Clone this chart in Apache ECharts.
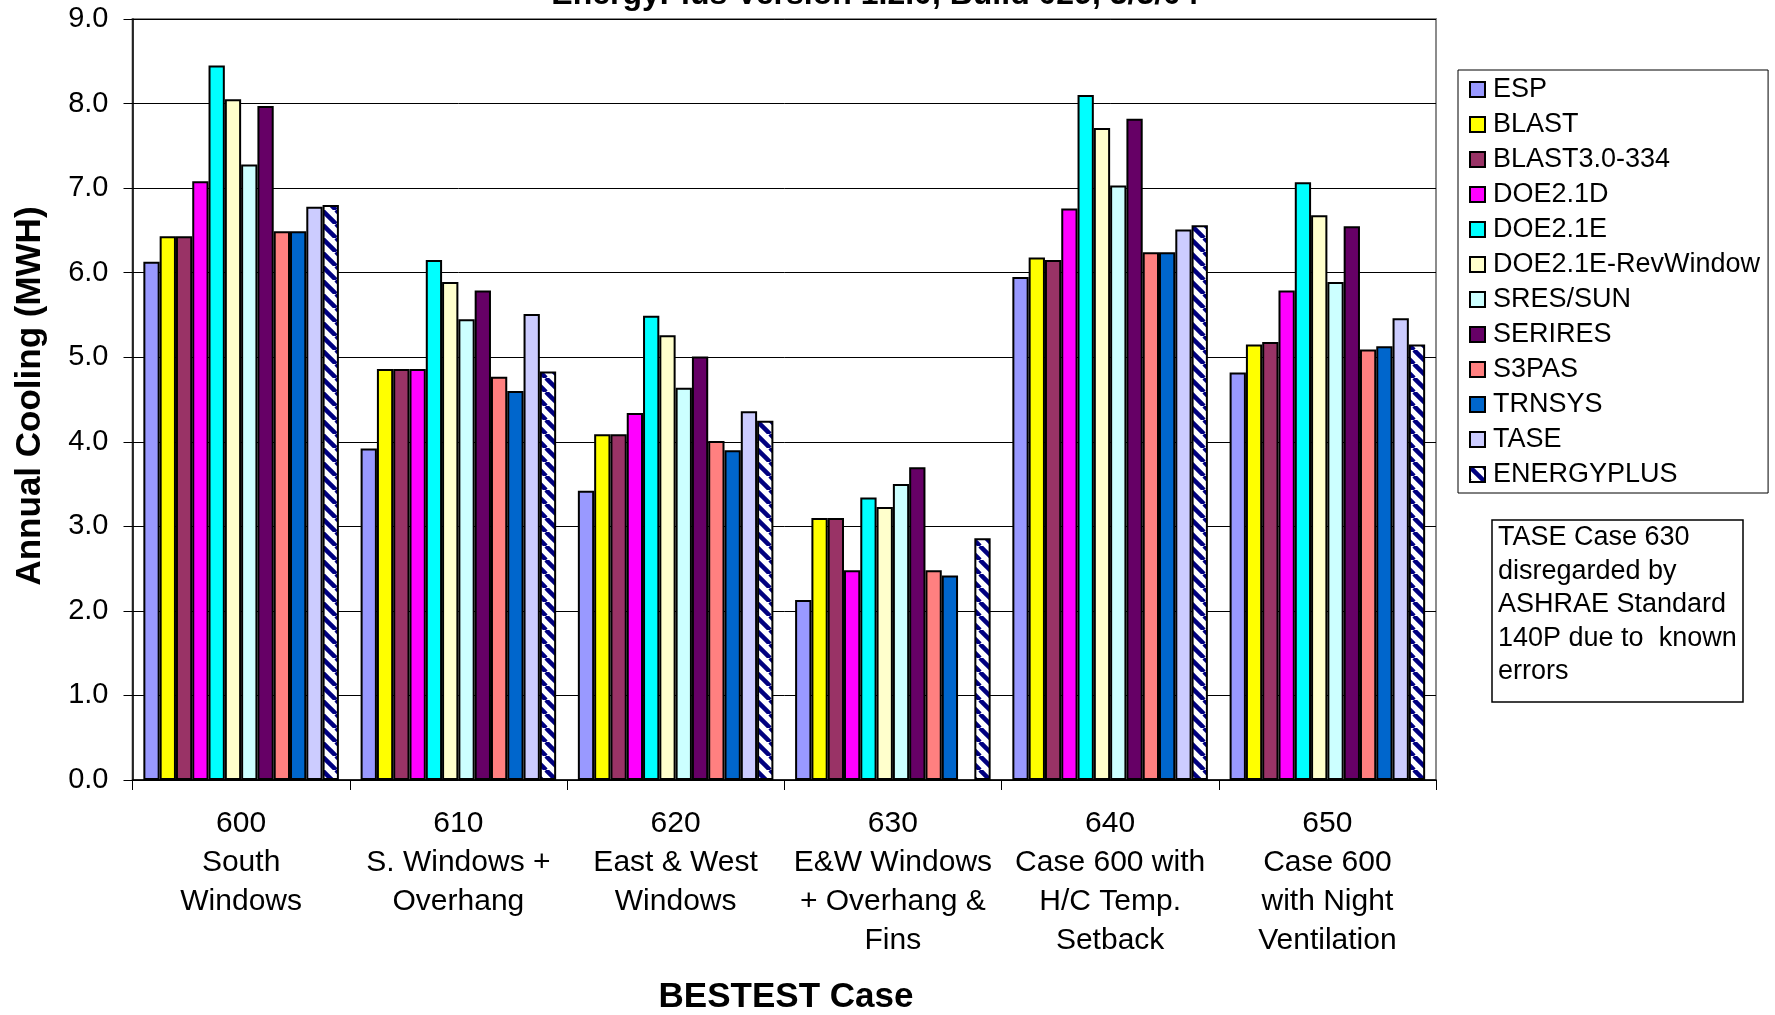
<!DOCTYPE html>
<html>
<head>
<meta charset="utf-8">
<script src="https://cdn.jsdelivr.net/npm/echarts@6/dist/echarts.min.js"></script>
<style>
html,body{margin:0;padding:0;background:#fff;}
#chart{width:1775px;height:1015px;}
</style>
</head>
<body>
<div id="chart"></div>
<script>
const categories = ['600\nSouth\nWindows', '610\nS. Windows +\nOverhang', '620\nEast & West\nWindows', '630\nE&W Windows\n+ Overhang &\nFins', '640\nCase 600 with\nH/C Temp.\nSetback', '650\nCase 600\nwith Night\nVentilation'];
const seriesNames = ['ESP', 'BLAST', 'BLAST3.0-334', 'DOE2.1D', 'DOE2.1E', 'DOE2.1E-RevWindow', 'SRES/SUN', 'SERIRES', 'S3PAS', 'TRNSYS', 'TASE', 'ENERGYPLUS'];
const ESP = [6.13, 3.92, 3.42, 2.13, 5.95, 4.82];
const BLAST = [6.43, 4.86, 4.09, 3.10, 6.18, 5.15];
const BLAST3 = [6.43, 4.86, 4.09, 3.10, 6.15, 5.18];
const DOE21D = [7.08, 4.86, 4.34, 2.48, 6.76, 5.79];
const DOE21E = [8.45, 6.15, 5.49, 3.34, 8.10, 7.07];
const DOE21E_Rev = [8.05, 5.89, 5.26, 3.23, 7.71, 6.68];
const SRES_SUN = [7.28, 5.45, 4.64, 3.50, 7.03, 5.89];
const SERIRES = [7.97, 5.79, 5.01, 3.70, 7.82, 6.55];
const S3PAS = [6.49, 4.77, 4.01, 2.48, 6.24, 5.09];
const TRNSYS = [6.49, 4.60, 3.90, 2.42, 6.24, 5.13];
const TASE = [6.78, 5.51, 4.36, null, 6.51, 5.46];
const ENERGYPLUS = [6.80, 4.83, 4.25, 2.86, 6.56, 5.15];
const yTicks = [0, 1, 2, 3, 4, 5, 6, 7, 8, 9];
const titleText = 'EnergyPlus Version 1.2.0, Build 029, 3/3/04';
const yTitle = 'Annual Cooling (MWH)';
const xTitle = 'BESTEST Case';
const noteLines = ['TASE Case 630', 'disregarded by', 'ASHRAE Standard', '140P due to  known', 'errors'];

const values = [ESP, BLAST, BLAST3, DOE21D, DOE21E, DOE21E_Rev, SRES_SUN, SERIRES, S3PAS, TRNSYS, TASE, ENERGYPLUS];

// stripe pattern for ENERGYPLUS
const tile = document.createElement('canvas');
tile.width = 14; tile.height = 14;
const c = tile.getContext('2d');
c.fillStyle = '#ffffff'; c.fillRect(0, 0, 14, 14);
c.strokeStyle = '#000080'; c.lineWidth = 4.5;
for (const o of [-14, 0, 14]) {
  c.beginPath(); c.moveTo(o, 0); c.lineTo(o + 14, 14); c.stroke();
}
const colors = ['#9999FF', '#FFFF00', '#993366', '#FF00FF', '#00FFFF', '#FFFFCC', '#CCFFFF', '#660066', '#FF8080', '#0066CC', '#CCCCFF', {image: tile, repeat: 'repeat'}];

const FONT = '"Liberation Sans", Arial, sans-serif';
const chart = echarts.init(document.getElementById('chart'), null, {renderer: 'canvas'});
const series = seriesNames.map((n, i) => ({
  name: n,
  type: 'bar',
  data: values[i],
  barGap: '0%',
  barCategoryGap: '10%',
  itemStyle: {color: colors[i], borderColor: '#000', borderWidth: 2},
  emphasis: {disabled: true},
  animation: false
}));

chart.setOption({
  animation: false,
  grid: {left: 132.5, right: 339, top: 19, bottom: 235, show: true, borderColor: '#8c8c8c', borderWidth: 2, backgroundColor: '#fff'},
  legend: {
    orient: 'vertical',
    left: 1458, top: 70,
    padding: [6, 8, 5, 11],
    itemWidth: 15, itemHeight: 15, itemGap: 8,
    icon: 'rect',
    borderColor: '#000', borderWidth: 1,
    textStyle: {fontFamily: FONT, fontSize: 27, lineHeight: 26, color: '#000', padding: [0, 0, 0, 3]},
    itemStyle: {borderColor: '#000', borderWidth: 2},
    data: seriesNames,
    selectedMode: false
  },
  xAxis: {
    type: 'category',
    data: categories,
    axisLine: {lineStyle: {color: '#000', width: 1.5}},
    axisTick: {show: true, length: 10, lineStyle: {color: '#000'}},
    axisLabel: {fontFamily: FONT, fontSize: 30, lineHeight: 39, color: '#000', margin: 24, interval: 0}
  },
  yAxis: {
    type: 'value',
    min: yTicks[0], max: yTicks[yTicks.length - 1], interval: 1,
    axisLine: {show: true, lineStyle: {color: '#000', width: 1.5}},
    axisTick: {show: true, length: 9, lineStyle: {color: '#000'}},
    axisLabel: {fontFamily: FONT, fontSize: 29, color: '#000', margin: 24, formatter: v => v.toFixed(1)},
    splitLine: {show: true, lineStyle: {color: '#000', width: 1}}
  },
  graphic: [
    {type: 'text', x: 875, y: -5, style: {text: titleText, font: 'bold 32px ' + FONT, fill: '#000', textAlign: 'center', textVerticalAlign: 'middle'}},
    {type: 'text', x: 30, y: 396, rotation: Math.PI / 2, style: {text: yTitle, font: 'bold 35px ' + FONT, fill: '#000', textAlign: 'center', textVerticalAlign: 'middle'}},
    {type: 'text', x: 786, y: 997, style: {text: xTitle, font: 'bold 35px ' + FONT, fill: '#000', textAlign: 'center', textVerticalAlign: 'middle'}},
    {type: 'rect', shape: {x: 1492, y: 520, width: 251, height: 182}, style: {fill: '#fff', stroke: '#000', lineWidth: 1.5}},
    {type: 'text', x: 1498, y: 521, style: {text: noteLines.join('\n'), font: '27px ' + FONT, lineHeight: 33.5, fill: '#000', textAlign: 'left', textVerticalAlign: 'top'}}
  ],
  series: series
});
</script>
</body>
</html>
